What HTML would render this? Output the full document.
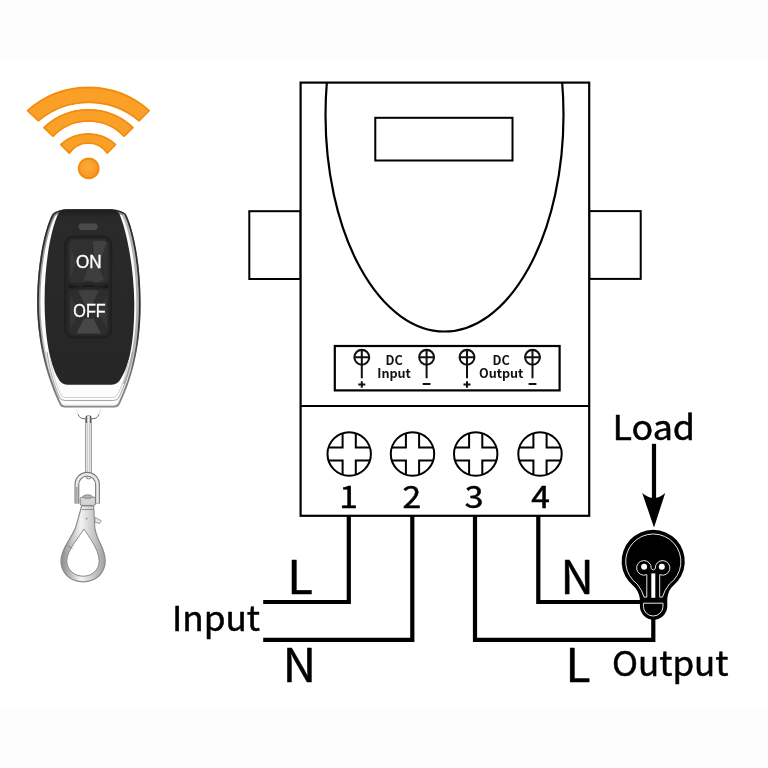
<!DOCTYPE html>
<html lang="en">
<head>
<meta charset="utf-8">
<title>Wireless remote switch wiring diagram</title>
<style>
  html, body { margin: 0; padding: 0; background: #fdfdfd; }
  body { width: 768px; height: 768px; overflow: hidden; }
  svg { display: block; will-change: transform; transform: translateZ(0); }
  .lbl { font-family: "Noto Sans CJK SC", "Liberation Sans", sans-serif; fill: #000; stroke: #000; stroke-width: 0.5px; stroke-linejoin: round; }
  .bold { font-family: "Noto Sans CJK SC", "Liberation Sans", sans-serif; font-weight: 700; fill: #111; }
  .btn { font-family: "Liberation Sans", sans-serif; fill: #ffffff; }
  .ln { fill: none; stroke: #000; stroke-width: 2; }
  .wire { fill: none; stroke: #000; stroke-width: 4.2; stroke-linejoin: miter; }
</style>
</head>
<body>
<svg width="768" height="768" viewBox="0 0 768 768">
  <defs>
    <clipPath id="bodyClip"><rect x="300.6" y="82.6" width="288.7" height="433.2"/></clipPath>
    <g id="screw">
      <circle cx="0" cy="0" r="21.7" class="ln"/>
      <path class="ln" d="M-6.6,-20.7 V-6.6 H-20.7 M6.6,-20.7 V-6.6 H20.7 M-6.6,20.7 V6.6 H-20.7 M6.6,20.7 V6.6 H20.7"/>
    </g>
    <g id="term">
      <circle cx="0" cy="0" r="7.4" fill="none" stroke="#111" stroke-width="2.1"/>
      <path d="M-7.4,0 H7.4 M0,-7.4 V21" fill="none" stroke="#111" stroke-width="2"/>
    </g>
  </defs>

  <!-- white picture area on the off-white canvas -->
  <rect x="0" y="59.7" width="768" height="648.5" fill="#ffffff"/>

  <!-- ===== receiver body ===== -->
  <g id="receiver">
    <rect x="249.3" y="211.2" width="51.3" height="67.8" class="ln"/>
    <rect x="589.2" y="211.1" width="51.5" height="67.8" class="ln"/>
    <rect x="300.6" y="82.6" width="288.6" height="433.2" fill="#fff" stroke="#000" stroke-width="2.2"/>
    <ellipse cx="444.5" cy="115" rx="119" ry="216.5" class="ln" style="stroke-width:2.2" clip-path="url(#bodyClip)"/>
    <rect x="375.3" y="117.8" width="137.2" height="42.7" class="ln"/>
    <line x1="300.6" y1="406" x2="589.3" y2="406" class="ln"/>
    <rect x="334.8" y="346" width="224.8" height="44.4" fill="none" stroke="#000" stroke-width="2.2"/>
  </g>

  <!-- ===== DC panel ===== -->
  <g id="dcpanel">
    <use href="#term" x="361.8" y="357.3"/>
    <use href="#term" x="426.6" y="357.3"/>
    <use href="#term" x="467" y="357.3"/>
    <use href="#term" x="532.5" y="357.3"/>
    <path d="M358.3,384.5 h7 M361.8,381.3 v6.4 M422.7,384 h7.8 M463.5,384.5 h7 M467,381.3 v6.4 M528.6,384 h7.8" fill="none" stroke="#111" stroke-width="2"/>
    <text class="bold" x="394.2" y="364.7" font-size="12.6" text-anchor="middle">DC</text>
    <text class="bold" x="394.1" y="378.3" font-size="12.6" text-anchor="middle">Input</text>
    <text class="bold" x="501.2" y="364.7" font-size="12.6" text-anchor="middle">DC</text>
    <text class="bold" x="501.2" y="378.3" font-size="12.6" text-anchor="middle">Output</text>
  </g>

  <!-- ===== screw terminals ===== -->
  <g id="screws">
    <use href="#screw" x="349.2" y="454"/>
    <use href="#screw" x="412.5" y="454"/>
    <use href="#screw" x="475.7" y="454"/>
    <use href="#screw" x="540" y="454"/>
    <text class="lbl" id="d1" transform="translate(348.6,507.5) scale(1.12,1)" font-size="30" text-anchor="middle">1</text>
    <text class="lbl" id="d2" transform="translate(411.9,507.5) scale(1.12,1)" font-size="30" text-anchor="middle">2</text>
    <text class="lbl" id="d3" transform="translate(474.2,507.5) scale(1.12,1)" font-size="30" text-anchor="middle">3</text>
    <text class="lbl" id="d4" transform="translate(540.5,507.5) scale(1.12,1)" font-size="30" text-anchor="middle">4</text>
  </g>

  <!-- ===== wires ===== -->
  <g id="wires">
    <path class="wire" d="M348.8,516 V602 H263.2"/>
    <path class="wire" d="M412.3,516 V639.8 H263.2"/>
    <path class="wire" d="M475,516 V639.8 H653.3 V616"/>
    <path class="wire" d="M538.3,516 V602 H642"/>
  </g>

  <!-- ===== labels ===== -->
  <g id="labels">
    <text class="lbl" id="tLl" transform="translate(287.2,594) scale(1,1)" font-size="47">L</text>
    <text class="lbl" id="tIn" transform="translate(171.9,631) scale(1.035,1)" font-size="34">Input</text>
    <text class="lbl" id="tNl" transform="translate(282.7,682) scale(1,1)" font-size="46">N</text>
    <text class="lbl" id="tNr" transform="translate(560.5,594.3) scale(1,1)" font-size="46">N</text>
    <text class="lbl" id="tLr" transform="translate(565.5,682.4) scale(1,1)" font-size="46">L</text>
    <text class="lbl" id="tOut" transform="translate(612,676.3) scale(1.03,1)" font-size="34">Output</text>
    <text class="lbl" id="tLoad" transform="translate(612.5,439.5) scale(1.04,1)" font-size="34.5">Load</text>
  </g>

  <!-- ===== load arrow ===== -->
  <g id="arrow">
    <line x1="654" y1="443.8" x2="654" y2="503" stroke="#000" stroke-width="4.2"/>
    <path d="M654,527.5 L642.2,493 Q654,503 665.2,493 Z" fill="#000"/>
  </g>

  <!-- ===== light bulb ===== -->
  <g id="bulb">
    <path d="M633.4,586 A31.6,31.6 0 1 1 673,586 Q668,590 667.3,599 V606 A13.7,13.7 0 0 1 639.9,606 V599 Q638.5,590 633.4,586 Z" fill="#000"/>
    <path d="M644.1,597.1 Q642.3,590.5 637.2,584 A27.6,27.6 0 1 1 669.4,584 Q664.3,590.5 662.4,597.1" fill="none" stroke="#fff" stroke-width="0.9"/>
    <path d="M644.1,597.1 H646.8 V574.6 M662.4,597.1 H659.7 V574.6" fill="none" stroke="#fff" stroke-width="0.9"/>
    <path d="M646.8,574.6 A7.3,7.3 0 1 1 651.2,568.6 Q653.2,571.5 655.3,568.6 A7.3,7.3 0 1 1 659.7,574.6" fill="none" stroke="#fff" stroke-width="0.9"/>
    <circle cx="644.1" cy="566.7" r="3" fill="#fff"/>
    <circle cx="661.8" cy="566.7" r="3" fill="#fff"/>
    <rect x="651.3" y="573.4" width="4" height="24.4" fill="#fff"/>
    <path d="M643.4,603.2 H663 V606.2 A9.8,9.8 0 0 1 643.4,606.2 Z" fill="none" stroke="#fff" stroke-width="0.9"/>
  </g>

  <!-- ===== wifi signal ===== -->
  <g id="wifi">
    <radialGradient id="og" cx="0.45" cy="0.4" r="0.7">
      <stop offset="0" stop-color="#fcab3c"/><stop offset="1" stop-color="#f7921a"/>
    </radialGradient>
    <g fill="none" stroke="#ffcf55" stroke-width="2.4" stroke-linejoin="round" opacity="0.55">
      <path d="M27.9,110.5 A90.8,90.8 0 0 1 148.9,110.5 L138.9,120.5 A78.8,78.8 0 0 0 38.2,120.5 Z"/>
      <path d="M44.3,127.4 A64.4,64.4 0 0 1 132.7,127.4 L124.2,135.9 A49.7,49.7 0 0 0 52.8,135.9 Z"/>
      <path d="M61.1,144.4 A40.2,40.2 0 0 1 115.3,144.4 L107.3,152.7 A23.4,23.4 0 0 0 69.1,152.7 Z"/>
      <circle cx="88.7" cy="168.4" r="10"/>
    </g>
    <g fill="#faa027" stroke="#f28b12" stroke-width="1.4" stroke-linejoin="round">
      <path d="M27.9,110.5 A90.8,90.8 0 0 1 148.9,110.5 L138.9,120.5 A78.8,78.8 0 0 0 38.2,120.5 Z"/>
      <path d="M44.3,127.4 A64.4,64.4 0 0 1 132.7,127.4 L124.2,135.9 A49.7,49.7 0 0 0 52.8,135.9 Z"/>
      <path d="M61.1,144.4 A40.2,40.2 0 0 1 115.3,144.4 L107.3,152.7 A23.4,23.4 0 0 0 69.1,152.7 Z"/>
      <circle cx="88.7" cy="168.4" r="10" fill="url(#og)"/>
    </g>
  </g>
    <g fill="#faa027" stroke="#f28b12" stroke-width="1.5" stroke-linejoin="round">
      <path d="M27.6,110.7 A92,92 0 0 1 149.1,110.7 L139.2,120.7 A78,78 0 0 0 38.4,120.7 Z"/>
      <path d="M44,127.6 A65,65 0 0 1 132.9,127.6 L124.1,136.2 A49,49 0 0 0 53,136.2 Z"/>
      <path d="M60.8,144.6 A40.9,40.9 0 0 1 115.5,144.6 L107.3,153.1 A22.7,22.7 0 0 0 69.4,153.1 Z"/>
      <circle cx="88.7" cy="168.4" r="9.7" fill="url(#og)"/>
    </g>
  </g>
  </g>

  <!-- ===== remote control ===== -->
  <g id="remote">
    <defs>
      <linearGradient id="silv" x1="0" y1="0" x2="1" y2="0">
        <stop offset="0" stop-color="#2e2e2e"/>
        <stop offset="0.018" stop-color="#555"/>
        <stop offset="0.035" stop-color="#f4f4f4"/>
        <stop offset="0.06" stop-color="#cfcfcf"/>
        <stop offset="0.085" stop-color="#f6f6f6"/>
        <stop offset="0.5" stop-color="#ffffff"/>
        <stop offset="0.915" stop-color="#f6f6f6"/>
        <stop offset="0.94" stop-color="#c8c8c8"/>
        <stop offset="0.965" stop-color="#f4f4f4"/>
        <stop offset="0.982" stop-color="#666"/>
        <stop offset="1" stop-color="#2e2e2e"/>
      </linearGradient>
      <linearGradient id="face" x1="0" y1="0" x2="0" y2="1">
        <stop offset="0" stop-color="#1c1c1c"/>
        <stop offset="0.05" stop-color="#2a2a2a"/>
        <stop offset="1" stop-color="#262626"/>
      </linearGradient>
    </defs>
    <!-- small hanger tab -->
    <path d="M78.2,414.6 Q79.4,418.7 84,418.7 H93 Q97.6,418.7 98.8,414.6" fill="none" stroke="#5a5a5a" stroke-width="0.9" stroke-linecap="round"/>
    <path d="M76.5,409 Q77,413 78.2,414.6 M100.5,409 Q100,413 98.8,414.6" fill="none" stroke="#d6d6d6" stroke-width="0.7"/>
    <!-- silver frame -->
    <clipPath id="frameClip"><path id="frameP" d="M52.5,214 Q57.5,209.4 66,209.4 H112 Q120.5,209.4 125.8,214 C133,228 140.6,262 140.6,303 C140.9,348 131,381 119.8,404 Q118.3,407.5 114,407.5 H65 Q60.8,407.5 59.4,404 C49,381 37.4,348 37.1,303 C37.1,262 45,228 52.5,214 Z"/></clipPath>
    <linearGradient id="edgeDark" x1="0" y1="209" x2="0" y2="408" gradientUnits="userSpaceOnUse">
      <stop offset="0" stop-color="#2a2a2a"/><stop offset="0.6" stop-color="#333"/><stop offset="0.8" stop-color="#6a6a6a"/><stop offset="1" stop-color="#8a8a8a"/>
    </linearGradient>
    <linearGradient id="edgeGray" x1="0" y1="209" x2="0" y2="408" gradientUnits="userSpaceOnUse">
      <stop offset="0" stop-color="#8f8f8f"/><stop offset="0.6" stop-color="#a5a5a5"/><stop offset="0.8" stop-color="#e2e2e2"/><stop offset="1" stop-color="#f2f2f2"/>
    </linearGradient>
    <g clip-path="url(#frameClip)">
      <use href="#frameP" fill="#fcfcfc"/>
      <use href="#frameP" fill="none" stroke="url(#edgeGray)" stroke-width="6.6"/>
      <use href="#frameP" fill="none" stroke="url(#edgeDark)" stroke-width="3.4"/>
    </g>
    <!-- black face -->
    <path d="M123,214.5 C130,229 137.4,262 137.4,303 C137.5,340 131,366 124,384" fill="none" stroke="#b4b4b4" stroke-width="2.2"/>
    <path d="M58.6,213 Q60.6,209.2 66.6,209.2 H110.5 Q116.5,209.2 119,213 C126,228 133.9,266 134.3,303 C134.3,340 130,364 121.5,377.5 Q118,384.7 111.5,384.7 H67.4 Q61,384.7 58,378 C50.2,364 44.6,338 44.6,300 C44.6,262 51.2,228 58.6,213 Z" fill="url(#face)"/>
    <!-- inner frame line near the bottom -->
    <path d="M47,352 C50,372 55,388 59.5,397 Q61,400.5 65,400.5 H113.5 Q117.5,400.5 119,397 C124,388 129,372 132.5,352" fill="none" stroke="#9c9c9c" stroke-width="0.9"/>
    <path d="M50.5,360 C53,375 57,388 61.5,395.5 Q62.8,397.5 66,397.5 H112.5 Q115.8,397.5 117,395.5 C121.5,388 126,375 128.8,360" fill="none" stroke="#c4c4c4" stroke-width="0.8"/>
    <!-- LED window -->
    <rect x="78.6" y="223.5" width="19" height="6.4" rx="3.2" fill="#4a4a4a"/>
    <!-- button well -->
    <rect x="64.2" y="235.6" width="48" height="102.8" rx="9" fill="#1f1f1f"/>
    <rect x="66" y="237.4" width="44.4" height="99.2" rx="7.5" fill="#262626"/>
    <!-- ON button -->
    <path d="M68.7,245 Q68.7,239.4 74.5,239.4 H102.6 Q108.4,239.4 108.4,245 V281.5 Q99,284.5 95,283 Q88.5,280.5 82,283 Q78,284.5 68.7,281.5 Z" fill="#303030"/>
    <path d="M93,241 L104.5,241 Q106.5,241 106.5,243.5 L100,262 L95,266 Z" fill="#474747" opacity="0.75"/>
    <path d="M83,282 L88,268 L97,263 L104,280 Q96,283 93,281.5 Q88.5,279.5 83,282 Z" fill="#444" opacity="0.7"/>
    <path d="M70.5,246 L76,262 L72,276 L70.5,276 Z" fill="#3e3e3e" opacity="0.6"/>
    <!-- divider -->
    <path d="M68.7,284.5 Q78,287.5 82,286 Q88.5,283.5 95,286 Q99,287.5 108.4,284.5 V288 Q88.5,285.6 68.7,288 Z" fill="#1a1a1a"/>
    <!-- OFF button -->
    <path d="M68.7,290.5 Q88.5,287.2 108.4,290.5 V329 Q108.4,334.7 102.6,334.7 H74.5 Q68.7,334.7 68.7,329 Z" fill="#2d2d2d"/>
    <path d="M78,290.8 Q88.5,289 99,290.8 L91.5,306 H85.5 Z" fill="#464646" opacity="0.75"/>
    <path d="M76.5,333.5 L84,318.5 H93.5 L101,333.5 Z" fill="#4c4c4c" opacity="0.85"/>
    <path d="M70.2,296 L80,312 L70.2,328 Z" fill="#3a3a3a" opacity="0.7"/>
    <path d="M106.9,296 L97,312 L106.9,328 Z" fill="#3a3a3a" opacity="0.7"/>
    <text class="btn" id="tOn" transform="translate(76,267.6) scale(0.9,1)" font-size="19" stroke="#fff" stroke-width="0.35">ON</text>
    <text class="btn" id="tOff" transform="translate(73.3,316.8) scale(0.875,1)" font-size="18.5" stroke="#fff" stroke-width="0.35">OFF</text>
  </g>

  <!-- ===== key ring and snap hook ===== -->
  <g id="hook">
    <defs>
      <linearGradient id="metal" x1="0" y1="0" x2="1" y2="0">
        <stop offset="0" stop-color="#8e8e8e"/><stop offset="0.45" stop-color="#f2f2f2"/><stop offset="1" stop-color="#a2a2a2"/>
      </linearGradient>
    </defs>
    <!-- split ring seen edge-on -->
    <rect x="85.7" y="415.6" width="5.6" height="63.4" rx="2.8" fill="#f3f3f3" stroke="#808080" stroke-width="0.9"/>
    <path d="M87.6,417 V478 M89.5,417 V478" stroke="#b9b9b9" stroke-width="0.7" fill="none"/>
    <path d="M86.4,415.8 V423 M90.6,415.8 V423" stroke="#4d4d4d" stroke-width="1" fill="none"/>
    <!-- swivel shackle -->
    <path d="M76.9,503.5 V484.5 A10.3,10.3 0 0 1 97.5,484.5 V503.5" fill="none" stroke="#777" stroke-width="4.8"/>
    <path d="M76.9,503 V484.5 A10.3,10.3 0 0 1 97.5,484.5 V503" fill="none" stroke="#e9e9e9" stroke-width="2.6"/>
    <path d="M76.5,503 V487" fill="none" stroke="#a8a8a8" stroke-width="2.4"/>
    <!-- swivel pin -->
    <rect x="80.2" y="497.2" width="15.2" height="8.2" rx="1.5" fill="#d4d4d4" stroke="#777" stroke-width="0.9"/>
    <ellipse cx="87.6" cy="496.6" rx="4.6" ry="1.8" fill="#b5b5b5" stroke="#6d6d6d" stroke-width="0.7"/>
    <!-- lever tab -->
    <path d="M95.2,517.5 L101.2,520.5 L99.6,523.6 L94.8,522 Z" fill="#e4e4e4" stroke="#8a8a8a" stroke-width="0.8"/>
    <!-- hook loop -->
    <path d="M81.2,505.4 H94.2 L95.4,528 C97.5,541 105.8,548 105.8,561 C105.8,573.5 95.8,582.4 83.2,582.4 C70.6,582.4 60.4,573.5 60.4,561 C60.4,549 71.5,537 75.2,527 Z" fill="#8a8a8a"/>
    <path d="M82.2,506.4 H93.2 L94.3,528.3 C96.4,541.5 104.6,548.5 104.6,561 C104.6,572.8 95.2,581.2 83.2,581.2 C71.2,581.2 61.6,572.8 61.6,561 C61.6,549.6 72.5,537.6 76.2,527.4 Z" fill="url(#metal)"/>
    <path d="M83.8,529 C87,534 99.2,549 99.2,561 C99.2,570 92,576.2 83.2,576.2 C74.4,576.2 66.8,570 66.8,561 C66.8,550 79.5,537 83.8,529 Z" fill="#fff" stroke="#8a8a8a" stroke-width="1"/>
    <path d="M82,509.5 H93.8" stroke="#8a8a8a" stroke-width="0.9"/>
    <circle cx="86.6" cy="518.6" r="0.9" fill="#8a8a8a"/>
    <path d="M67.5,545.5 L72.5,548.5" stroke="#777" stroke-width="0.8"/>
  </g>
</svg>
</body>
</html>
